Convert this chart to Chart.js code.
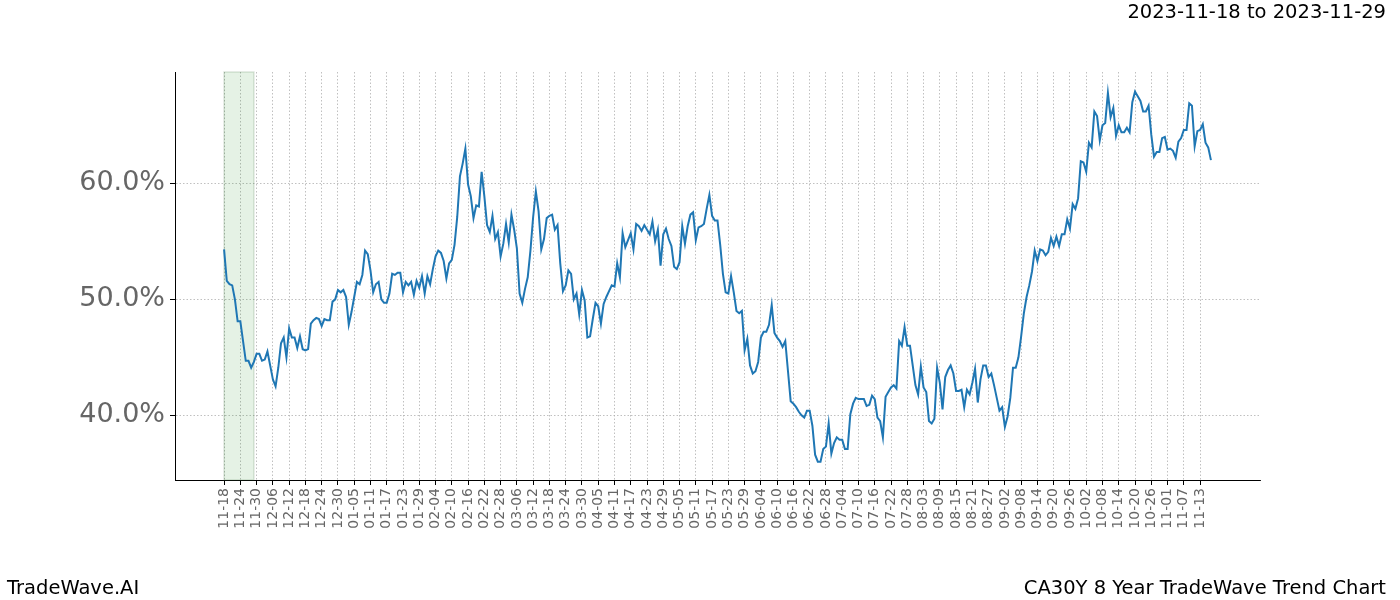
<!DOCTYPE html>
<html>
<head>
<meta charset="utf-8">
<script src="https://cdn.jsdelivr.net/npm/chart.js@4.4.1/dist/chart.umd.min.js"></script>
<style>
  html, body { margin: 0; padding: 0; background: #ffffff; }
  #wrap { position: relative; width: 1400px; height: 600px; background: #ffffff; }
  canvas { position: absolute; left: 0; top: 0; }
  .txt { position: absolute; font-family: "DejaVu Sans", sans-serif; font-size: 19.5px; line-height: 19.5px; color: #000; white-space: nowrap; }
</style>
</head>
<body>
<div id="wrap">
  <canvas id="c" width="1400" height="600"></canvas>
  <div class="txt" style="right:14px; top:2px;">2023-11-18 to 2023-11-29</div>
  <div class="txt" style="left:7px; top:578px;">TradeWave.AI</div>
  <div class="txt" style="right:14px; top:578px;">CA30Y 8 Year TradeWave Trend Chart</div>
</div>
<script>
// Tick labels (every 6 days starting 2022-11-18)
const tickLabels = ["11-18","11-24","11-30","12-06","12-12","12-18","12-24","12-30","01-05","01-11","01-17","01-23","01-29","02-04","02-10","02-16","02-22","02-28","03-06","03-12","03-18","03-24","03-30","04-05","04-11","04-17","04-23","04-29","05-05","05-11","05-17","05-23","05-29","06-04","06-10","06-16","06-22","06-28","07-04","07-10","07-16","07-22","07-28","08-03","08-09","08-15","08-21","08-27","09-02","09-08","09-14","09-20","09-26","10-02","10-08","10-14","10-20","10-26","11-01","11-07","11-13"];
const tickStepDays = 6;

// Daily values (%), day 0 = 2022-11-18
const values = [
 54.3,51.6,51.3,51.2,50.0,48.1,48.1,46.4,44.7,44.7,
 44.1,44.6,45.3,45.3,44.7,44.8,45.5,44.3,43.1,42.5,
 44.1,46.2,46.7,45.0,47.5,46.7,46.7,45.8,46.8,45.7,
 45.6,45.7,47.9,48.2,48.4,48.3,47.7,48.3,48.2,48.2,
 49.8,50.0,50.8,50.6,50.8,50.2,47.8,48.9,50.2,51.5,
 51.3,52.1,54.2,53.9,52.5,50.6,51.3,51.5,50.0,49.7,
 49.7,50.5,52.2,52.1,52.3,52.3,50.6,51.5,51.2,51.5,
 50.4,51.6,51.0,52.0,50.5,52.0,51.3,52.6,53.7,54.2,
 54.0,53.3,51.8,53.1,53.4,54.7,57.1,60.6,61.7,63.0,
 59.9,58.9,57.0,58.1,58.0,61.0,58.9,56.4,55.8,57.2,
 55.2,55.8,53.7,54.8,56.5,54.9,57.3,56.0,54.4,50.5,
 49.7,50.9,51.9,54.2,57.1,59.3,57.6,54.3,55.2,57.0,
 57.2,57.3,56.0,56.4,53.1,50.7,51.2,52.5,52.2,50.0,
 50.5,48.7,50.8,49.9,46.7,46.8,48.3,49.7,49.4,47.9,
 49.6,50.2,50.7,51.2,51.1,53.1,51.9,55.7,54.5,55.1,
 55.7,54.3,56.5,56.3,55.9,56.4,56.0,55.6,56.7,55.0,
 56.0,52.9,55.6,56.1,55.2,54.6,52.8,52.6,53.2,56.3,
 54.8,56.3,57.3,57.5,55.1,56.2,56.3,56.5,57.8,59.0,
 57.2,56.8,56.8,54.7,52.2,50.6,50.5,52.0,50.6,49.0,
 48.8,49.0,45.6,46.6,44.3,43.6,43.8,44.6,46.7,47.2,
 47.2,47.8,49.5,47.1,46.7,46.4,45.9,46.4,43.8,41.2,
 41.0,40.7,40.3,40.0,39.8,40.4,40.4,39.1,36.6,36.0,
 36.0,37.1,37.3,39.3,36.7,37.6,38.1,37.9,37.9,37.1,
 37.1,40.1,41.0,41.5,41.4,41.4,41.4,40.8,40.9,41.7,
 41.4,39.8,39.5,38.1,41.6,42.0,42.4,42.6,42.3,46.4,
 46.0,47.6,46.0,46.0,44.3,42.6,41.8,44.2,42.4,42.0,
 39.5,39.3,39.7,44.1,42.8,40.5,43.3,43.9,44.3,43.6,
 42.1,42.1,42.2,40.7,42.2,41.8,42.8,44.0,41.1,43.1,
 44.3,44.3,43.3,43.6,42.6,41.5,40.4,40.7,39.0,39.9,
 41.5,44.1,44.1,45.0,46.8,48.8,50.2,51.2,52.4,54.2,
 53.3,54.3,54.2,53.8,54.1,55.3,54.6,55.4,54.6,55.6,
 55.6,56.9,56.1,58.2,57.8,58.7,61.9,61.8,61.0,63.5,
 63.1,66.2,65.8,63.7,65.0,65.2,67.8,65.7,66.5,64.1,
 65.0,64.4,64.4,64.8,64.4,67.0,67.9,67.5,67.1,66.2,
 66.2,66.7,64.2,62.3,62.7,62.7,63.9,64.0,62.9,63.0,
 62.8,62.2,63.6,63.9,64.6,64.6,66.9,66.7,63.2,64.5,
 64.6,65.1,63.5,63.1,62.0
];

// Highlighted window (day indices)
const bandStart = 0;
const bandEnd = 11;

// Y axis tick values
const yTicks = [40, 50, 60];

const bandPlugin = {
  id: 'band',
  beforeDatasetsDraw(chart) {
    const { ctx, chartArea, scales } = chart;
    const x0 = scales.x.getPixelForValue(bandStart);
    const x1 = scales.x.getPixelForValue(bandEnd);
    ctx.save();
    ctx.fillStyle = 'rgba(0,128,0,0.10)';
    ctx.fillRect(x0, chartArea.top, x1 - x0, chartArea.bottom - chartArea.top);
    ctx.strokeStyle = 'rgba(60,110,60,0.18)';
    ctx.lineWidth = 1.5;
    ctx.strokeRect(x0, chartArea.top, x1 - x0, chartArea.bottom - chartArea.top);
    ctx.restore();
  }
};

new Chart(document.getElementById('c').getContext('2d'), {
  type: 'line',
  data: {
    datasets: [{
      data: values.map((v, i) => ({ x: i, y: v })),
      borderColor: '#1f77b4',
      borderWidth: 2,
      pointRadius: 0,
      tension: 0,
      fill: false
    }]
  },
  options: {
    responsive: false,
    animation: false,
    layout: { padding: { left: 0, right: 140, top: 72, bottom: 0 } },
    plugins: { legend: { display: false }, tooltip: { enabled: false } },
    scales: {
      x: {
        type: 'linear',
        min: -18.1,
        max: 382.1,
        afterBuildTicks: s => { s.ticks = tickLabels.map((_, i) => ({ value: i * tickStepDays })); },
        afterFit: s => { s.height = 120; },
        ticks: {
          autoSkip: false, minRotation: 90, maxRotation: 90,
          color: '#666', padding: 3,
          font: { family: 'DejaVu Sans', size: 14 },
          callback: (v, i) => tickLabels[i]
        },
        grid: { color: '#b0b0b0', lineWidth: 0.8, tickColor: '#000', tickLength: 5, tickWidth: 1 },
        border: { display: true, color: '#000', width: 1, dash: [1.5, 2] }
      },
      y: {
        min: 34.42,
        max: 69.6,
        afterBuildTicks: s => { s.ticks = yTicks.map(v => ({ value: v })); },
        afterFit: s => { s.width = 175; },
        ticks: {
          color: '#666', padding: 5,
          font: { family: 'DejaVu Sans', size: 27 },
          callback: v => v.toFixed(1) + '%'
        },
        grid: { color: '#b0b0b0', lineWidth: 0.8, tickColor: '#000', tickLength: 5, tickWidth: 1 },
        border: { display: true, color: '#000', width: 1, dash: [1.5, 2] }
      }
    }
  },
  plugins: [bandPlugin]
});
</script>
</body>
</html>
